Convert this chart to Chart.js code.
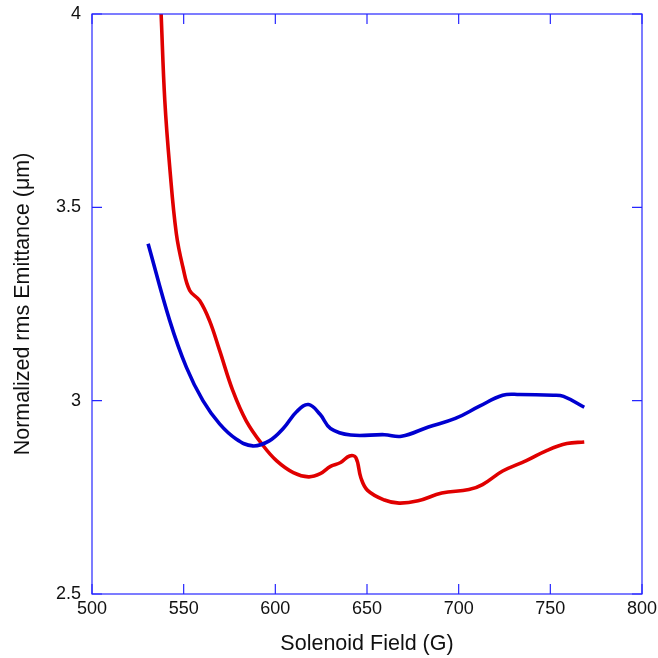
<!DOCTYPE html>
<html>
<head>
<meta charset="utf-8">
<script src="https://cdn.jsdelivr.net/npm/chart.js@4/dist/chart.umd.min.js"></script>
<style>
  html, body { margin: 0; padding: 0; background: #fff; }
  #wrap { width: 658px; height: 658px; }
</style>
</head>
<body>
<div id="wrap"><canvas id="chart"></canvas></div>
<script>
// values
const blueField = [530.6, 542.4, 551.5, 560.5, 569.6, 578.6, 587.7, 596.7, 604.3, 611.7, 618.1, 624.5, 630.1, 641.1, 659.5, 668.8, 683.5, 698.2, 711.1, 724.0, 733.2, 751.6, 757.2, 768.5];
const blueEmit  = [3.406, 3.207, 3.086, 3.000, 2.940, 2.901, 2.883, 2.896, 2.928, 2.972, 2.990, 2.964, 2.928, 2.911, 2.912, 2.908, 2.932, 2.954, 2.985, 3.014, 3.016, 3.014, 3.011, 2.983];

const redField = [537.7, 539.7, 542.4, 546.0, 549.6, 553.3, 558.7, 564.1, 569.6, 576.8, 584.1, 593.3, 600.6, 609.8, 618.1, 624.5, 630.1, 635.6, 640.5, 643.9, 646.7, 650.3, 659.5, 667.5, 677.9, 690.8, 705.6, 713.0, 724.0, 736.9, 748.0, 759.0, 768.5];
const redEmit  = [4.000, 3.777, 3.604, 3.432, 3.345, 3.285, 3.259, 3.207, 3.130, 3.026, 2.948, 2.884, 2.845, 2.814, 2.803, 2.811, 2.830, 2.840, 2.857, 2.853, 2.800, 2.768, 2.743, 2.735, 2.741, 2.761, 2.770, 2.783, 2.818, 2.845, 2.871, 2.889, 2.893];

const xTicks = [500, 550, 600, 650, 700, 750, 800];
const yTicks = [2.5, 3, 3.5, 4];

const toPoints = (xs, ys) => xs.map((x, i) => ({ x: x, y: ys[i] }));

const FONT = "'Liberation Sans', Arial, Helvetica, sans-serif";
const AXIS_BLUE = '#2626ff';

// frame + inward ticks on all four sides
const framePlugin = {
  id: 'frame',
  afterDraw(chart) {
    const { ctx, chartArea: a, scales } = chart;
    ctx.save();
    ctx.strokeStyle = AXIS_BLUE;
    ctx.lineWidth = 1.2;
    ctx.strokeRect(a.left, a.top, a.right - a.left, a.bottom - a.top);
    const len = 10;
    ctx.beginPath();
    xTicks.forEach(v => {
      const px = scales.x.getPixelForValue(v);
      ctx.moveTo(px, a.bottom); ctx.lineTo(px, a.bottom - len);
      ctx.moveTo(px, a.top); ctx.lineTo(px, a.top + len);
    });
    yTicks.forEach(v => {
      const py = scales.y.getPixelForValue(v);
      ctx.moveTo(a.left, py); ctx.lineTo(a.left + len, py);
      ctx.moveTo(a.right, py); ctx.lineTo(a.right - len, py);
    });
    ctx.stroke();
    ctx.restore();
  }
};

new Chart(document.getElementById('chart'), {
  type: 'line',
  data: {
    datasets: [
      {
        data: toPoints(blueField, blueEmit),
        borderColor: '#0000d0',
        borderWidth: 3.6,
        pointRadius: 0,
        tension: 0.4,
        fill: false,
      },
      {
        data: toPoints(redField, redEmit),
        borderColor: '#e00000',
        borderWidth: 3.6,
        pointRadius: 0,
        tension: 0.4,
        fill: false,
      },
    ]
  },
  options: {
    responsive: true,
    maintainAspectRatio: false,
    animation: false,
    layout: { padding: { top: 14, right: 16, left: 0, bottom: 0 } },
    plugins: {
      legend: { display: false },
      tooltip: { enabled: false },
    },
    scales: {
      x: {
        type: 'linear',
        min: 500,
        max: 800,
        afterBuildTicks: s => { s.ticks = xTicks.map(v => ({ value: v })); },
        afterFit: s => { s.height = 64; s.paddingLeft = 0; s.paddingRight = 0; },
        grid: { display: false, drawTicks: false, tickLength: 0 },
        border: { display: false },
        ticks: { color: '#111', padding: 4, font: { family: FONT, size: 18 } },
        title: {
          display: true,
          text: 'Solenoid Field (G)',
          color: '#111',
          padding: { top: 0, bottom: 1 },
          font: { family: FONT, size: 21.5 },
        },
      },
      y: {
        min: 2.5,
        max: 4,
        afterBuildTicks: s => { s.ticks = yTicks.map(v => ({ value: v })); },
        afterFit: s => { s.width = 92; s.paddingTop = 0; s.paddingBottom = 0; },
        grid: { display: false, drawTicks: false, tickLength: 0 },
        border: { display: false },
        ticks: {
          color: '#111',
          padding: 11,
          font: { family: FONT, size: 18 },
          callback: v => String(v),
        },
        title: {
          display: true,
          text: 'Normalized rms Emittance (\u03bcm)',
          color: '#111',
          padding: { top: 10, bottom: 0 },
          font: { family: FONT, size: 21.5 },
        },
      },
    },
  },
  plugins: [framePlugin],
});
</script>
</body>
</html>
